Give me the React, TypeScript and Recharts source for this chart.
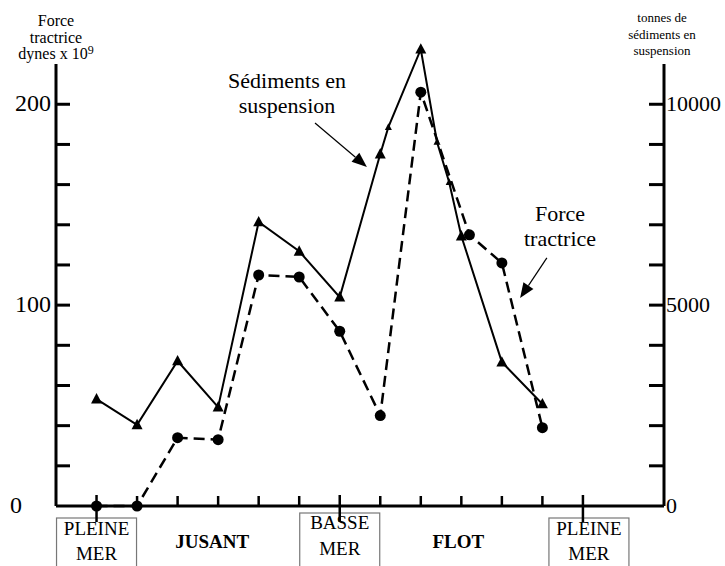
import React from 'react';
import { ComposedChart, Line, XAxis, YAxis, ReferenceLine } from 'recharts';

// Force tractrice (dynes x 10^9), left axis
const FORCE_X = [1, 2, 3, 4, 5, 6, 7, 8, 9, 10.2, 11, 12];
const FORCE_VAL = [0, 0, 34, 33, 115, 114, 87, 45, 206, 135, 121, 39];

// sédiments en suspension (tonnes), right axis
const SED_X = [1, 2, 3, 4, 5, 6, 7, 8, 8.2, 9, 9.4, 9.7, 10, 11, 12];
const SED_VAL = [2660, 2020, 3610, 2460, 7070, 6340, 5200, 8760, 9430, 11370, 9060, 8060, 6720, 3580, 2540];
const SMALL_MARKS = [8.2, 9.4, 9.7];

const X_TICKS = [1, 2, 3, 4, 5, 6, 7, 8, 9, 10, 11, 12, 13];
const MAIN_TICKS = [1, 7, 13];
const LEFT_TICKS = [0, 20, 40, 60, 80, 100, 120, 140, 160, 180, 200];
const RIGHT_TICKS = [0, 1000, 2000, 3000, 4000, 5000, 6000, 7000, 8000, 9000, 10000];

const BOX_LABELS: Record<number, string[]> = { 1: ['PLEINE', 'MER'], 7: ['BASSE', 'MER'], 13: ['PLEINE', 'MER'] };
const PHASE_LABELS: Record<number, string> = { 4: 'JUSANT', 10: 'FLOT' };

const forceData = FORCE_X.map((x, i) => ({ x, force: FORCE_VAL[i] }));
const sedData = SED_X.map((x, i) => ({ x, sed: SED_VAL[i] }));

const W = 725;
const H = 566;
const PLOT_LEFT = 56;
const PLOT_RIGHT = 664;
const BASE_Y = 506;
const SERIF = '"Liberation Serif", "Times New Roman", serif';

const LeftTick = (p: any) => {
  const v = p.payload.value;
  const y = p.y;
  return (
    <g>
      {v > 0 && <line x1={PLOT_LEFT} x2={PLOT_LEFT + 14} y1={y} y2={y} stroke="#000" strokeWidth={3} />}
      {v % 100 === 0 && (
        <text x={v === 0 ? 22 : 51} y={y} dy={7} textAnchor="end" fontSize={24} fontFamily={SERIF} fill="#000">
          {v}
        </text>
      )}
    </g>
  );
};

const RightTick = (p: any) => {
  const v = p.payload.value;
  const y = p.y;
  return (
    <g>
      {v > 0 && <line x1={PLOT_RIGHT - 15} x2={PLOT_RIGHT} y1={y} y2={y} stroke="#000" strokeWidth={3} />}
      {v % 5000 === 0 && (
        <text x={PLOT_RIGHT + 2} y={y} dy={7} textAnchor="start" fontSize={22} fontFamily={SERIF} fill="#000">
          {v}
        </text>
      )}
    </g>
  );
};

const BottomTick = (p: any) => {
  const v = p.payload.value;
  const x = p.x;
  const main = MAIN_TICKS.includes(v);
  const box = BOX_LABELS[v];
  const phase = PHASE_LABELS[v];
  const bx = v === 13 ? x + 6 : x;
  const top = v === 7 ? 513 : 518;
  return (
    <g>
      {box && <rect x={bx - 40} y={top} width={80} height={70} fill="#fff" stroke="#777" strokeWidth={1.2} />}
      {main ? (
        <line x1={x} x2={x} y1={BASE_Y - 11} y2={BASE_Y + 16} stroke="#000" strokeWidth={2.5} />
      ) : (
        <line x1={x} x2={x} y1={BASE_Y - 10} y2={BASE_Y} stroke="#000" strokeWidth={2.5} />
      )}
      {box && (
        <text textAnchor="middle" fontSize={19} fontFamily={SERIF} fill="#000">
          <tspan x={bx} y={v === 7 ? 529 : 535}>{box[0]}</tspan>
          <tspan x={bx} y={v === 7 ? 555 : 560}>{box[1]}</tspan>
        </text>
      )}
      {phase && (
        <text x={x - (v === 4 ? 6 : 3)} y={548} textAnchor="middle" fontSize={19} fontWeight="bold" fontFamily={SERIF} fill="#000">
          {phase}
        </text>
      )}
    </g>
  );
};

const Triangle = (p: any) => {
  const { cx, cy, payload } = p;
  if (cx == null || cy == null) return <g />;
  const s = SMALL_MARKS.includes(payload.x) ? 3.5 : 5.5;
  return <path d={`M${cx},${cy - s * 1.1} L${cx + s},${cy + s * 0.8} L${cx - s},${cy + s * 0.8} Z`} fill="#000" />;
};

const Dot = (p: any) => {
  const { cx, cy } = p;
  if (cx == null || cy == null) return <g />;
  return <circle cx={cx} cy={cy} r={5.5} fill="#000" />;
};

const Arrow = (p: any) => {
  const { x1, y1, x2, y2 } = p;
  const a = Math.atan2(y2 - y1, x2 - x1);
  const L = 15;
  const w = 6;
  const bx = x2 - L * Math.cos(a);
  const by = y2 - L * Math.sin(a);
  const pts = `${x2},${y2} ${bx + w * Math.sin(a)},${by - w * Math.cos(a)} ${bx - w * Math.sin(a)},${by + w * Math.cos(a)}`;
  return (
    <g>
      <line x1={x1} y1={y1} x2={bx} y2={by} stroke="#000" strokeWidth={1.2} />
      <polygon points={pts} fill="#000" />
    </g>
  );
};

const AxisLine = (p: any) => <line x1={p.x1} y1={p.y1} x2={p.x2} y2={p.y2} stroke="#000" strokeWidth={3} />;

// annotation arrows, in data units of the left axis
const SED_ARROW = [{ x: 6.39, y: 190.7 }, { x: 7.67, y: 168.8 }];
const FORCE_ARROW = [{ x: 12.11, y: 123.5 }, { x: 11.45, y: 103.5 }];

export default function App() {
  return (
    <div style={{ position: 'absolute', left: 0, top: 0, width: W, height: H, background: '#fff' }}>
      <ComposedChart width={W} height={H} margin={{ top: 44, right: 0, bottom: 0, left: 0 }}>
        <XAxis
          type="number"
          dataKey="x"
          domain={[0, 15]}
          ticks={X_TICKS}
          interval={0}
          height={60}
          axisLine={{ stroke: '#000', strokeWidth: 3 }}
          tickLine={false}
          tick={BottomTick}
        />
        <YAxis yAxisId="left" domain={[0, 230]} ticks={LEFT_TICKS} interval={0} width={56} axisLine={false} tickLine={false} tick={LeftTick} />
        <YAxis
          yAxisId="right"
          orientation="right"
          domain={[0, 11500]}
          ticks={RIGHT_TICKS}
          interval={0}
          width={61}
          axisLine={false}
          tickLine={false}
          tick={RightTick}
        />
        <ReferenceLine yAxisId="left" segment={[{ x: 0, y: 0 }, { x: 0, y: 220 }]} shape={AxisLine} />
        <ReferenceLine yAxisId="left" segment={[{ x: 15, y: 0 }, { x: 15, y: 220 }]} shape={AxisLine} />
        <ReferenceLine yAxisId="left" segment={SED_ARROW} shape={Arrow} />
        <ReferenceLine yAxisId="left" segment={FORCE_ARROW} shape={Arrow} />
        <Line
          data={forceData}
          yAxisId="left"
          dataKey="force"
          stroke="#000"
          strokeWidth={2.5}
          strokeDasharray="11 6"
          dot={Dot}
          isAnimationActive={false}
        />
        <Line data={sedData} yAxisId="right" dataKey="sed" stroke="#000" strokeWidth={2} dot={Triangle} isAnimationActive={false} />
      </ComposedChart>
      <svg width={W} height={H} style={{ position: 'absolute', left: 0, top: 0, pointerEvents: 'none' }}>
        <g fontFamily={SERIF} fill="#000" textAnchor="middle">
          <text fontSize={16}>
            <tspan x={56} y={26}>Force</tspan>
            <tspan x={56} y={43}>tractrice</tspan>
            <tspan x={56} y={59}>
              dynes x 10<tspan fontSize={12} dy={-5}>9</tspan>
            </tspan>
          </text>
          <text fontSize={13}>
            <tspan x={662} y={22}>tonnes de</tspan>
            <tspan x={662} y={39}>sédiments en</tspan>
            <tspan x={662} y={55}>suspension</tspan>
          </text>
          <text fontSize={22}>
            <tspan x={287} y={88}>Sédiments en</tspan>
          </text>
          <text fontSize={22}>
            <tspan x={287} y={113}>suspension</tspan>
          </text>
          <text fontSize={22}>
            <tspan x={560} y={221}>Force</tspan>
          </text>
          <text fontSize={22}>
            <tspan x={560} y={246}>tractrice</tspan>
          </text>
        </g>
      </svg>
    </div>
  );
}
